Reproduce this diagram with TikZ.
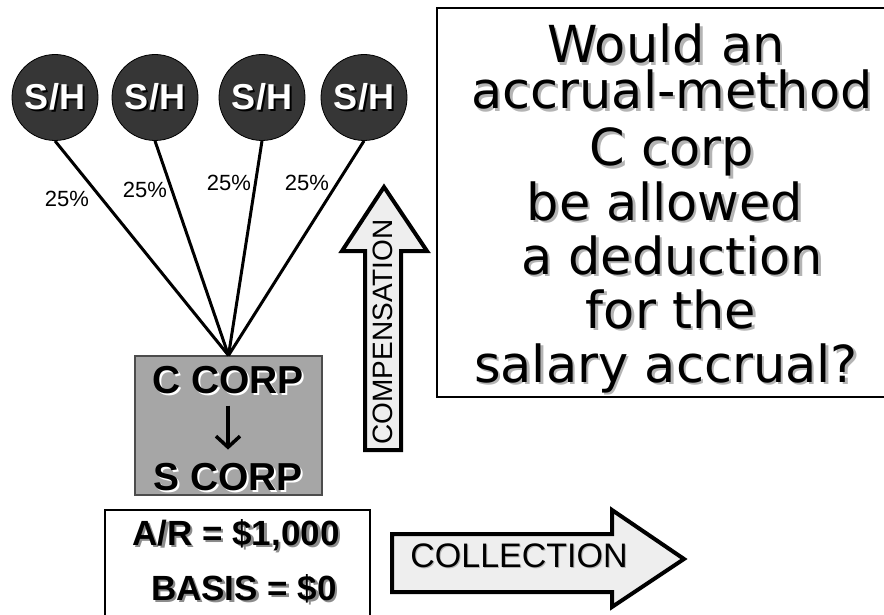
\documentclass[tikz,border=0pt]{standalone}
\usepackage{fontspec}
\setmainfont{DejaVu Sans}
\newfontfamily\arialfont{Liberation Sans}
\usetikzlibrary{arrows.meta}

\definecolor{shfill}{HTML}{363636}
\definecolor{corpfill}{HTML}{A6A6A6}
\definecolor{arrowfill}{HTML}{EEEEEE}
\definecolor{softshadow}{HTML}{B4B4B4}
\definecolor{midshadow}{HTML}{8C8C8C}

% text with an offset copy behind it
\newcommand\dropshadow[3][2pt]{\rlap{\kern#1\raisebox{-#1}{\color{#2}#3}}#3}

\tikzset{
  holder/.style={circle, draw=black, line width=0.8pt, fill=shfill,
    minimum size=86pt, inner sep=0pt, text=white,
    font=\arialfont\bfseries\fontsize{36}{36}\selectfont},
  link/.style={draw=black, line width=3pt},
  pct/.style={inner sep=0pt, font=\arialfont\fontsize{22}{22}\selectfont},
  corpbox/.style={draw=black!70, line width=1.2pt, fill=corpfill,
    minimum width=187pt, minimum height=139pt, inner sep=0pt},
  corptext/.style={anchor=base, inner sep=0pt,
    font=\arialfont\bfseries\fontsize{39}{39}\selectfont},
  framebox/.style={draw=black, line width=1.8pt, inner sep=0pt},
  artext/.style={anchor=base, inner sep=0pt,
    font=\arialfont\bfseries\fontsize{35}{35}\selectfont},
  qline/.style={anchor=base, inner sep=0pt, text height=37pt, text depth=8pt,
    font=\fontsize{51}{51}\selectfont},
  bigarrow/.style={draw=black, line width=4pt, fill=arrowfill, line join=miter},
  arrowlabel/.style={inner sep=0pt, font=\arialfont\fontsize{#1}{#1}\selectfont},
}

\begin{document}
\begin{tikzpicture}[x=1pt, y=-1pt]
  \useasboundingbox (0,0) rectangle (884,615);

  % shareholders
  \node[holder] (sh1) at (55,97.5)  {\dropshadow{black}{S/H}};
  \node[holder] (sh2) at (155,97.5) {\dropshadow{black}{S/H}};
  \node[holder] (sh3) at (262,97.5) {\dropshadow{black}{S/H}};
  \node[holder] (sh4) at (364,97.5) {\dropshadow{black}{S/H}};

  % corporation
  \node[corpbox] (corp) at (228.5,425.5) {};
  \node[corptext] (ctop) at (228,393) {\dropshadow{white}{C CORP}};
  \node[corptext] (cbot) at (228,490) {\dropshadow{white}{S CORP}};
  \draw[line width=3.5pt, shorten <=10pt, shorten >=13pt,
        -{Straight Barb[length=11pt, width=24pt]}] (ctop.south) -- (cbot.north);

  % ownership links
  \foreach \s in {sh1,sh2,sh3,sh4}
    \draw[link] (\s.south) -- (corp.north);
  \node[pct] (p1) at (67,199) {25\%};
  \node[pct] (p2) at (145,190) {25\%};
  \node[pct] (p3) at (229,183) {25\%};
  \node[pct] (p4) at (307,183) {25\%};

  % receivable
  \node[framebox, minimum width=265pt, minimum height=130pt] (arbox) at (237.5,575) {};
  \node[artext] (ar1) at (236,545) {\dropshadow[2.5pt]{midshadow}{A/R = \$1,000}};
  \node[artext] (ar2) at (244,600) {\dropshadow[2.5pt]{midshadow}{BASIS = \$0}};

  % compensation arrow
  \draw[bigarrow] (365,450) -- (365,251) -- (342,251) -- (384,187)
                  -- (427,251) -- (401,251) -- (401,450) -- cycle;
  \node[arrowlabel=28, rotate=90] (comp) at (383,332) {COMPENSATION};

  % collection arrow
  \draw[bigarrow] (392,534) -- (612,534) -- (612,510) -- (684,559)
                  -- (612,607) -- (612,592) -- (392,592) -- cycle;
  \node[arrowlabel=34] (coll) at (519,556) {\dropshadow[1pt]{softshadow}{COLLECTION}};

  % question (frame runs past the right edge of the page)
  \node[framebox, minimum width=456pt, minimum height=389pt] (qbox) at (665,202.5) {};
  \node[qline] (q1) at (666,63)  {\dropshadow[2.5pt]{softshadow}{Would an}};
  \node[qline] (q2) at (672,109) {\dropshadow[2.5pt]{softshadow}{accrual-method}};
  \node[qline] (q3) at (672,166) {\dropshadow[2.5pt]{softshadow}{C corp}};
  \node[qline] (q4) at (665,220) {\dropshadow[2.5pt]{softshadow}{be allowed}};
  \node[qline] (q5) at (672,274) {\dropshadow[2.5pt]{softshadow}{a deduction}};
  \node[qline] (q6) at (671,328) {\dropshadow[2.5pt]{softshadow}{for the}};
  \node[qline] (q7) at (666,382) {\dropshadow[2.5pt]{softshadow}{salary accrual?}};
\end{tikzpicture}
\end{document}
